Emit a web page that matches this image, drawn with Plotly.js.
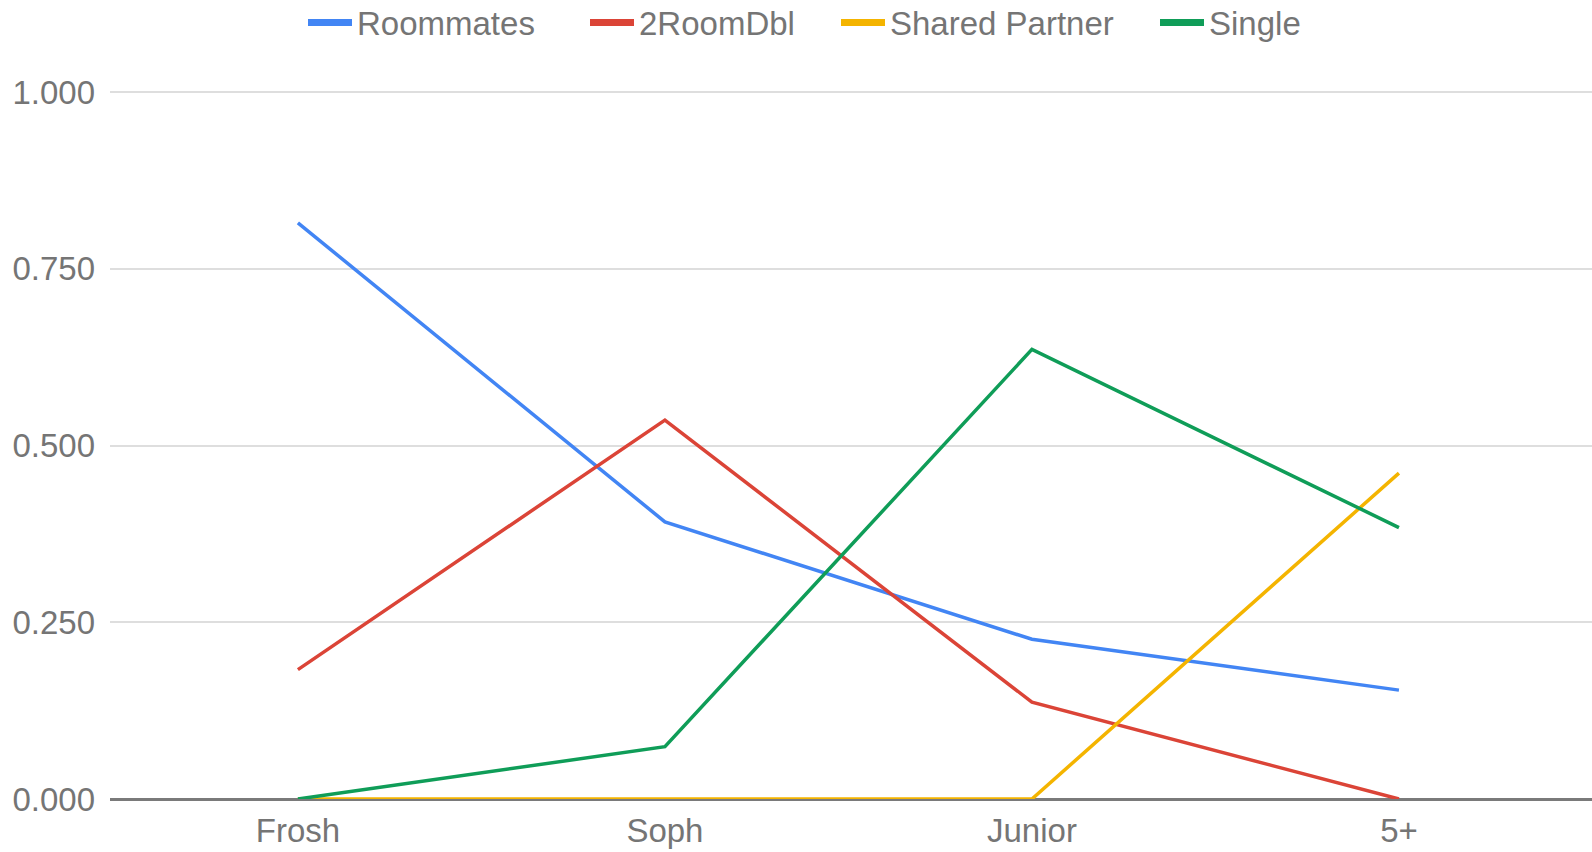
<!DOCTYPE html>
<html>
<head>
<meta charset="utf-8">
<script src="https://cdn.plot.ly/plotly-3.0.1.min.js"></script>
<style>
html,body{margin:0;padding:0;background:#fff;}
#chart{width:1592px;height:852px;}
</style>
</head>
<body>
<div id="chart"></div>
<script>
var categories = ["Frosh", "Soph", "Junior", "5+"];
var roommates = [0.815, 0.392, 0.226, 0.154];
var twoRoomDbl = [0.183, 0.536, 0.137, 0.0];
var sharedPartner = [0.0, 0.0, 0.0, 0.461];
var single = [0.0, 0.074, 0.636, 0.384];
var seriesNames = ["Roommates", "2RoomDbl", "Shared Partner", "Single"];
var seriesColors = ["#4285F4", "#DB4437", "#F4B400", "#0F9D58"];
var yTicks = [0, 0.25, 0.5, 0.75, 1.0];

var seriesValues = [roommates, twoRoomDbl, sharedPartner, single];
var legendIds = ["legend", "legend2", "legend3", "legend4"];
var traces = [];
seriesValues.forEach(function(vals, i){
  traces.push({
    type: "scatter", mode: "lines", x: categories, y: vals,
    name: seriesNames[i], legendgroup: seriesNames[i], showlegend: false,
    line: {color: seriesColors[i], width: 3.5}, hoverinfo: "x+y+name"
  });
});
seriesValues.forEach(function(vals, i){
  traces.push({
    type: "scatter", mode: "lines", x: [null], y: [null],
    name: seriesNames[i], legendgroup: seriesNames[i], showlegend: true,
    legend: legendIds[i],
    line: {color: seriesColors[i], width: 7}
  });
});

var plotLeft = 110, plotWidth = 1482, plotTop = 90, plotBottom = 799;
var legendStarts = [300, 582, 833, 1152];
var legendCenterY = 22.5;
var font = {family: "Liberation Sans, Arial, sans-serif", size: 33, color: "#757575"};
function legendAt(px){
  return {
    orientation: "h", x: (px - 5 - plotLeft) / plotWidth, xanchor: "left",
    y: (plotBottom - legendCenterY) / (plotBottom - plotTop), yanchor: "middle",
    font: font, itemwidth: 44,
    bgcolor: "rgba(0,0,0,0)", borderwidth: 0
  };
}

var layout = {
  width: 1592, height: 852,
  margin: {l: 110, r: 0, t: 90, b: 53, pad: 0, autoexpand: false},
  paper_bgcolor: "#ffffff", plot_bgcolor: "#ffffff",
  font: font,
  xaxis: {
    type: "category", categoryarray: categories, range: [-0.512, 3.526],
    showgrid: false, zeroline: false, showline: false, ticks: "",
    tickfont: font, ticklabelstandoff: 9, automargin: false
  },
  yaxis: {
    range: [0, 1.003], tickvals: yTicks, tickformat: ".3f",
    showgrid: true, gridcolor: "#dedede", gridwidth: 2,
    zeroline: true, zerolinecolor: "#7a7a7a", zerolinewidth: 3,
    showline: false, ticks: "", tickfont: font, ticklabelstandoff: 14, automargin: false
  },
  showlegend: true,
  legend: legendAt(legendStarts[0] + 8),
  legend2: legendAt(legendStarts[1] + 8),
  legend3: legendAt(legendStarts[2] + 8),
  legend4: legendAt(legendStarts[3] + 8)
};

Plotly.newPlot("chart", traces, layout, {displayModeBar: false, responsive: false});
</script>
</body>
</html>
